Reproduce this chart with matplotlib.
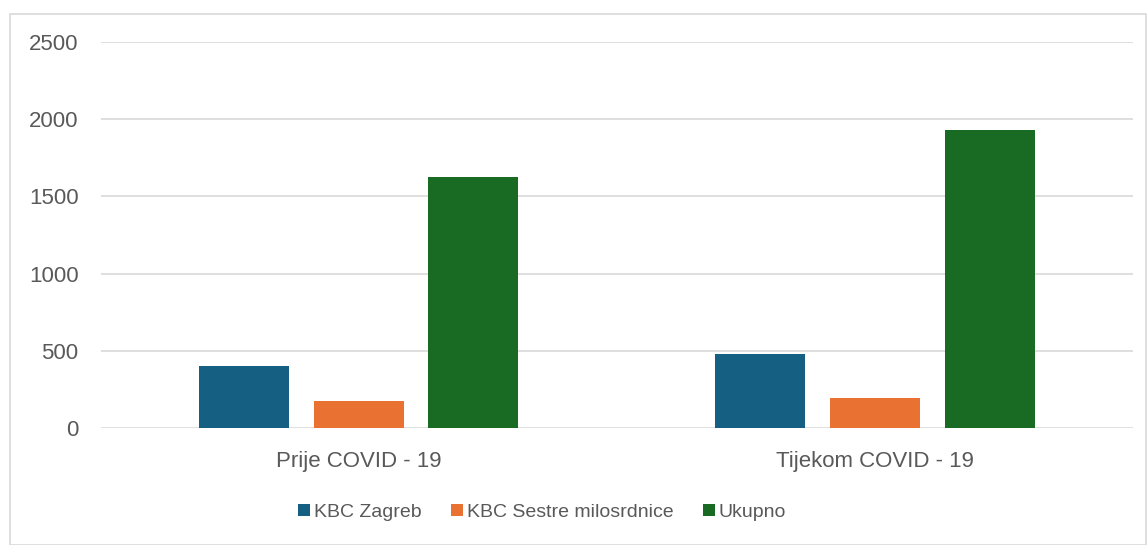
import numpy as np
import matplotlib.pyplot as plt
from matplotlib.patches import Rectangle

plt.rcParams['font.family'] = ['Liberation Sans', 'DejaVu Sans']

categories = ['Prije COVID - 19', 'Tijekom COVID - 19']
series_names = ['KBC Zagreb', 'KBC Sestre milosrdnice', 'Ukupno']
kbc_zagreb = [400, 480]
kbc_sestre = [175, 193]
ukupno = [1625, 1930]
colors = ['#156082', '#E97132', '#196B24']

fig = plt.figure(figsize=(11.47, 5.45), dpi=100)
ax = fig.add_axes([0.0878, 0.2152, 0.9, 0.7072])

# border round the whole chart
fig.patches.append(Rectangle((10 / 1147, 0), 1136 / 1147, 531 / 545,
                             transform=fig.transFigure, fill=False,
                             edgecolor='#D9D9D9', linewidth=1.2))

x = np.arange(len(categories))
width = 0.1744
step = 0.222
for i, (vals, name) in enumerate(zip([kbc_zagreb, kbc_sestre, ukupno], series_names)):
    ax.bar(x + (i - 1) * step, vals, width, color=colors[i], label=name, zorder=3)

ax.set_xlim(-0.5, 1.5)
ax.set_ylim(0, 2500)
ax.set_yticks(np.arange(0, 2501, 500))
ax.yaxis.grid(True, color='#D9D9D9', linewidth=1.2, zorder=0)
for s in ax.spines.values():
    s.set_visible(False)
ax.tick_params(axis='both', length=0, labelsize=16, colors='#595959')
ax.tick_params(axis='y', pad=16)
ax.tick_params(axis='x', pad=17)
ax.set_xticks(x)
ax.set_xticklabels(categories)

ax.legend(loc='center', bbox_to_anchor=(0.4276, -0.219), ncol=3, frameon=False,
          fontsize=14, labelcolor='#595959', handlelength=0.62, handleheight=0.62,
          handletextpad=0.2, columnspacing=1.5)

fig.savefig('out.png', dpi=100)
